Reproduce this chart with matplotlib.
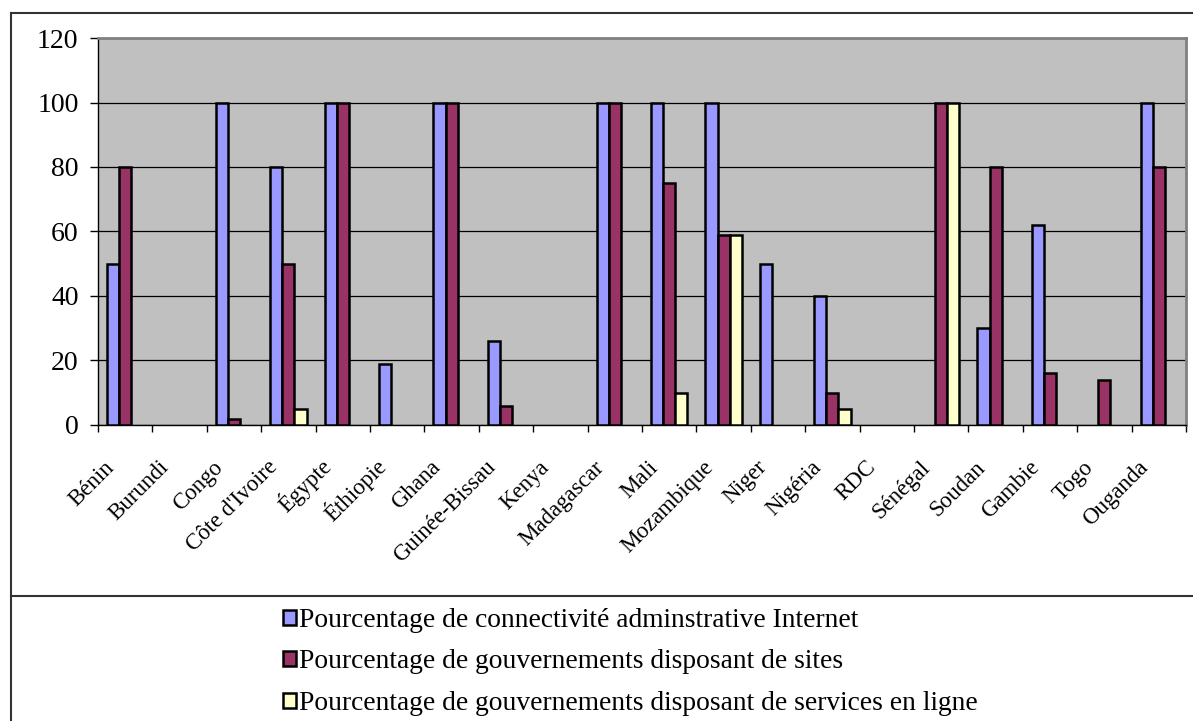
import matplotlib
matplotlib.use("Agg")
import matplotlib.pyplot as plt
from matplotlib.patches import Patch
from matplotlib.lines import Line2D
from matplotlib.transforms import ScaledTranslation
import numpy as np

plt.rcParams['font.family'] = ['Liberation Serif', 'DejaVu Serif']

categories = ["Bénin", "Burundi", "Congo", "Côte d'Ivoire", "Égypte", "Éthiopie",
              "Ghana", "Guinée-Bissau", "Kenya", "Madagascar", "Mali", "Mozambique",
              "Niger", "Nigéria", "RDC", "Sénégal", "Soudan", "Gambie", "Togo", "Ouganda"]
connectivite = [50, 0, 100, 80, 100, 19, 100, 26, 0, 100, 100, 100, 50, 40, 0, 0, 30, 62, 0, 100]
sites =        [80, 0, 2, 50, 100, 0, 100, 6, 0, 100, 75, 59, 0, 10, 0, 100, 80, 16, 14, 80]
services =     [0, 0, 0, 5, 0, 0, 0, 0, 0, 0, 10, 59, 0, 5, 0, 100, 0, 0, 0, 0]
series_labels = ["Pourcentage de connectivité adminstrative Internet",
                 "Pourcentage de gouvernements disposant de sites",
                 "Pourcentage de gouvernements disposant de services en ligne"]
colors = ["#9999FF", "#993366", "#FFFFCC"]
yticks = [0, 20, 40, 60, 80, 100, 120]

W, H = 1193, 721
fig = plt.figure(figsize=(W/100, H/100), dpi=100)
ax = fig.add_axes([98/W, 1-425/H, (1186-98)/W, (425-38)/H])
ax.set_facecolor("#C0C0C0")

x = np.arange(len(categories))
w = 1/4.5
for k, (vals, c) in enumerate(zip([connectivite, sites, services], colors)):
    v = np.asarray(vals, dtype=float)
    m = v > 0
    ax.bar(x[m] + (k-1)*w, v[m], width=w, color=c, edgecolor="black", linewidth=1.8, zorder=3)

ax.set_xlim(-0.5, len(categories)-0.5)
ax.set_ylim(0, 120)
ax.set_yticks(yticks)
ax.set_yticklabels([str(t) for t in yticks], fontsize=20)
ax.yaxis.grid(True, color="black", linewidth=0.9, zorder=1)
ax.set_axisbelow(True)
ax.tick_params(axis='y', direction='out', length=6, width=1, pad=8, color='black')

ax.set_xticks(x)
ax.set_xticklabels(categories, rotation=45, ha='right', va='baseline', rotation_mode='anchor', fontsize=16.5)
ax.tick_params(axis='x', which='major', length=0, pad=31)
ax.set_xticks(np.arange(-0.5, len(categories)), minor=True)
ax.tick_params(axis='x', which='minor', direction='out', length=5, width=1, color='black')
shift = ScaledTranslation(-10/100, 0, fig.dpi_scale_trans)
for lab in ax.get_xticklabels():
    lab.set_transform(lab.get_transform() + shift)

for s in ['top', 'right']:
    ax.spines[s].set_color('#808080')
    ax.spines[s].set_linewidth(2)
for s in ['left', 'bottom']:
    ax.spines[s].set_color('black')
    ax.spines[s].set_linewidth(1)

# outer frame and legend separator
lc = '#333333'
fig.add_artist(Line2D([10.5/W, 10.5/W], [0, 1-13/H], color=lc, linewidth=1.5))
fig.add_artist(Line2D([10.5/W, 1], [1-13/H, 1-13/H], color=lc, linewidth=1.5))
fig.add_artist(Line2D([10.5/W, 1], [1-596/H, 1-596/H], color=lc, linewidth=1.5))

handles = [Patch(facecolor=c, edgecolor='black', linewidth=1.8) for c in colors]
fig.legend(handles, series_labels, loc='upper left', bbox_to_anchor=(283/W, 1-608/H),
           frameon=False, fontsize=19.8, handlelength=0.47, handleheight=0.47,
           handletextpad=0.12, labelspacing=0.6, borderaxespad=0, borderpad=0)

fig.savefig("out.png", dpi=100)
